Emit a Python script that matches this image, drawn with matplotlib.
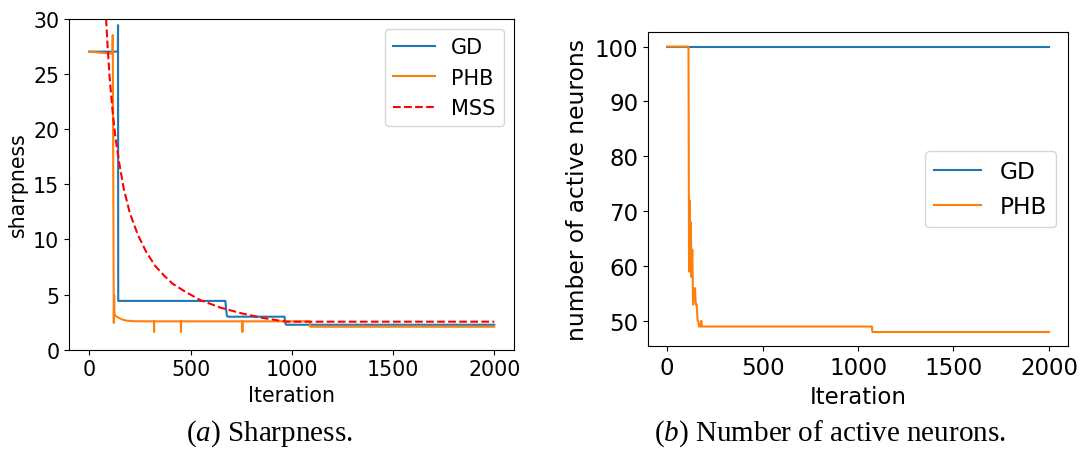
import matplotlib.pyplot as plt

plt.rcParams['mathtext.fontset'] = 'custom'
plt.rcParams['mathtext.rm'] = 'Liberation Serif'
plt.rcParams['mathtext.it'] = 'Liberation Serif:italic'

# sharpness curves
gd_sharp_it = [0, 141, 142, 143, 672, 676, 680, 686, 964, 967, 970, 974, 2000]
gd_sharp = [27.0, 27.0, 29.4, 4.42, 4.42, 3.6, 3.05, 2.99, 2.99, 2.6, 2.3, 2.26, 2.26]

phb_sharp_it = [0, 60, 114, 116, 121, 123, 124, 126, 128, 135, 150, 165, 185, 220, 300,
                319, 320, 321, 452, 453, 454, 755, 756, 757, 1088, 1092, 2000]
phb_sharp = [27.0, 26.9, 26.8, 28.5, 2.42, 4.9, 3.3, 3.15, 3.1, 3.0, 2.85, 2.72, 2.63, 2.58, 2.57,
             2.57, 1.6, 2.57, 2.57, 1.6, 2.57, 2.57, 1.6, 2.57, 2.57, 2.08, 2.08]

mss_it = [80, 90, 100, 115, 130, 148, 170, 200, 240, 280, 325, 370, 410, 470, 547,
          650, 751, 850, 950, 980, 2000]
mss = [31.0, 27.6, 24.8, 21.6, 19.1, 16.9, 14.6, 12.4, 10.4, 8.9, 7.6, 6.7, 6.0, 5.3, 4.5,
       3.8, 3.3, 2.9, 2.6, 2.54, 2.54]

# active neuron counts
gd_act_it = [0, 2000]
gd_act = [100, 100]

phb_act_it = [0, 112, 115, 118, 120, 124, 128, 132, 136, 139, 142, 146, 150, 155, 160,
              163, 167, 176, 178, 180, 182, 1073, 1075, 2000]
phb_act = [100, 100, 59, 72, 61, 68, 58, 63, 53, 55, 54, 56, 53, 53, 50,
           50, 49, 49, 50, 50, 49, 49, 48, 48]

fig = plt.figure(figsize=(10.82, 4.56), dpi=100)

ax1 = fig.add_axes([0.0638, 0.2309, 0.4117, 0.7263])
ax1.plot(gd_sharp_it, gd_sharp, label='GD')
ax1.plot(phb_sharp_it, phb_sharp, label='PHB')
ax1.plot(mss_it, mss, 'r--', label='MSS')
ax1.set_xlim(-100, 2100)
ax1.set_ylim(0, 30)
ax1.set_xticks([0, 500, 1000, 1500, 2000])
ax1.tick_params(labelsize=14.8)
ax1.set_xlabel('Iteration', fontsize=14.8)
ax1.set_ylabel('sharpness', fontsize=14.8)
ax1.legend(loc='upper right', fontsize=15)

ax2 = fig.add_axes([0.5989, 0.2384, 0.3882, 0.6886])
ax2.plot(gd_act_it, gd_act, label='GD')
ax2.plot(phb_act_it, phb_act, label='PHB')
ax2.set_xlim(-100, 2100)
ax2.set_xticks([0, 500, 1000, 1500, 2000])
ax2.set_yticks([50, 60, 70, 80, 90, 100])
ax2.tick_params(labelsize=16.5)
ax2.set_xlabel('Iteration', fontsize=16.5)
ax2.set_ylabel('number of active neurons', fontsize=16.8)
ax2.legend(loc='center right', fontsize=16.8)

fig.text(269 / 1082, 0.05, r'$(a)$ Sharpness.', family='Liberation Serif',
         fontsize=21, ha='center', va='center')
fig.text(830 / 1082, 0.05, r'$(b)$ Number of active neurons.', family='Liberation Serif',
         fontsize=21, ha='center', va='center')

fig.savefig('out.png', dpi=100)
